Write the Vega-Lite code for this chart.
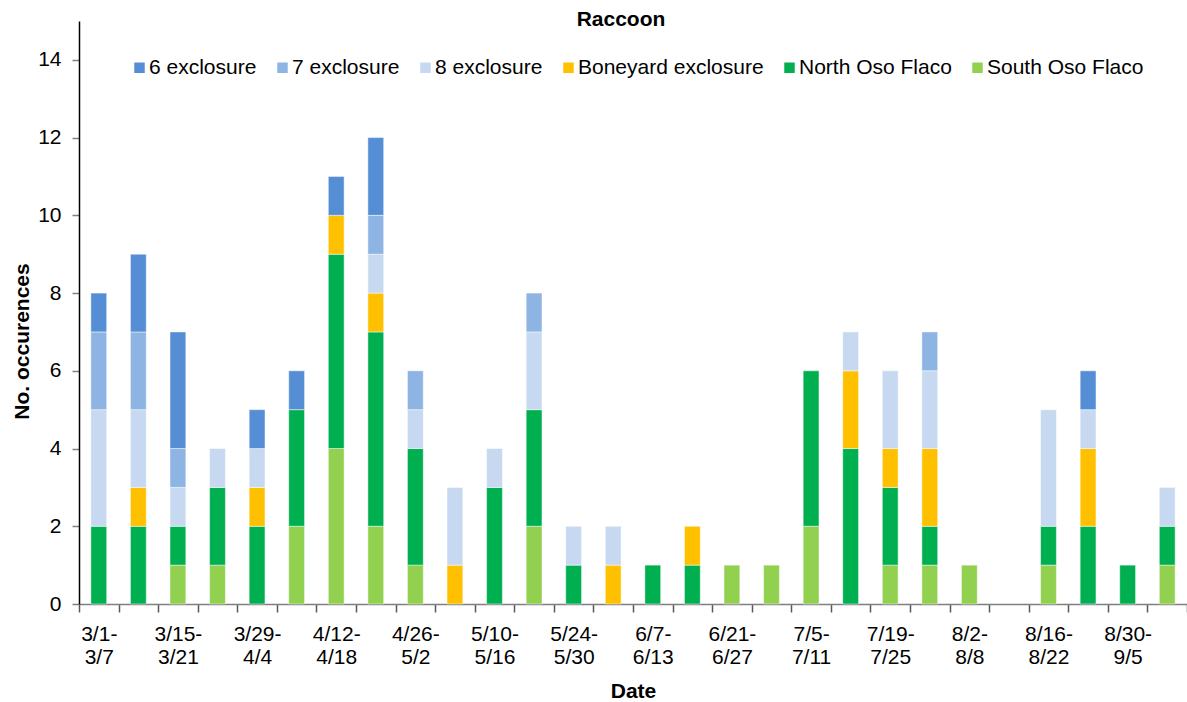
{
  "$schema": "https://vega.github.io/schema/vega-lite/v6.json",
  "width": 1108,
  "height": 583,
  "autosize": {"type": "none"},
  "padding": {"left": 79, "top": 21, "right": 0, "bottom": 98},
  "background": "white",
  "config": {
    "view": {"stroke": null},
    "font": "Liberation Sans",
    "axis": {"labelFont": "Liberation Sans", "titleFont": "Liberation Sans", "labelColor": "black", "titleColor": "black", "grid": false}
  },
  "title": {
    "text": "Raccoon",
    "font": "Liberation Sans",
    "fontSize": 21,
    "fontWeight": "bold",
    "color": "black",
    "anchor": "middle",
    "baseline": "alphabetic",
    "offset": -5,
    "dx": -12,
    "dy": 21
  },
  "data": {
    "values": [
      {"week": "3/1-3/7", "series": "North Oso Flaco", "count": 2},
      {"week": "3/1-3/7", "series": "8 exclosure", "count": 3},
      {"week": "3/1-3/7", "series": "7 exclosure", "count": 2},
      {"week": "3/1-3/7", "series": "6 exclosure", "count": 1},
      {"week": "3/8-3/14", "series": "North Oso Flaco", "count": 2},
      {"week": "3/8-3/14", "series": "Boneyard exclosure", "count": 1},
      {"week": "3/8-3/14", "series": "8 exclosure", "count": 2},
      {"week": "3/8-3/14", "series": "7 exclosure", "count": 2},
      {"week": "3/8-3/14", "series": "6 exclosure", "count": 2},
      {"week": "3/15-3/21", "series": "South Oso Flaco", "count": 1},
      {"week": "3/15-3/21", "series": "North Oso Flaco", "count": 1},
      {"week": "3/15-3/21", "series": "8 exclosure", "count": 1},
      {"week": "3/15-3/21", "series": "7 exclosure", "count": 1},
      {"week": "3/15-3/21", "series": "6 exclosure", "count": 3},
      {"week": "3/22-3/28", "series": "South Oso Flaco", "count": 1},
      {"week": "3/22-3/28", "series": "North Oso Flaco", "count": 2},
      {"week": "3/22-3/28", "series": "8 exclosure", "count": 1},
      {"week": "3/29-4/4", "series": "North Oso Flaco", "count": 2},
      {"week": "3/29-4/4", "series": "Boneyard exclosure", "count": 1},
      {"week": "3/29-4/4", "series": "8 exclosure", "count": 1},
      {"week": "3/29-4/4", "series": "6 exclosure", "count": 1},
      {"week": "4/5-4/11", "series": "South Oso Flaco", "count": 2},
      {"week": "4/5-4/11", "series": "North Oso Flaco", "count": 3},
      {"week": "4/5-4/11", "series": "6 exclosure", "count": 1},
      {"week": "4/12-4/18", "series": "South Oso Flaco", "count": 4},
      {"week": "4/12-4/18", "series": "North Oso Flaco", "count": 5},
      {"week": "4/12-4/18", "series": "Boneyard exclosure", "count": 1},
      {"week": "4/12-4/18", "series": "6 exclosure", "count": 1},
      {"week": "4/19-4/25", "series": "South Oso Flaco", "count": 2},
      {"week": "4/19-4/25", "series": "North Oso Flaco", "count": 5},
      {"week": "4/19-4/25", "series": "Boneyard exclosure", "count": 1},
      {"week": "4/19-4/25", "series": "8 exclosure", "count": 1},
      {"week": "4/19-4/25", "series": "7 exclosure", "count": 1},
      {"week": "4/19-4/25", "series": "6 exclosure", "count": 2},
      {"week": "4/26-5/2", "series": "South Oso Flaco", "count": 1},
      {"week": "4/26-5/2", "series": "North Oso Flaco", "count": 3},
      {"week": "4/26-5/2", "series": "8 exclosure", "count": 1},
      {"week": "4/26-5/2", "series": "7 exclosure", "count": 1},
      {"week": "5/3-5/9", "series": "Boneyard exclosure", "count": 1},
      {"week": "5/3-5/9", "series": "8 exclosure", "count": 2},
      {"week": "5/10-5/16", "series": "North Oso Flaco", "count": 3},
      {"week": "5/10-5/16", "series": "8 exclosure", "count": 1},
      {"week": "5/17-5/23", "series": "South Oso Flaco", "count": 2},
      {"week": "5/17-5/23", "series": "North Oso Flaco", "count": 3},
      {"week": "5/17-5/23", "series": "8 exclosure", "count": 2},
      {"week": "5/17-5/23", "series": "7 exclosure", "count": 1},
      {"week": "5/24-5/30", "series": "North Oso Flaco", "count": 1},
      {"week": "5/24-5/30", "series": "8 exclosure", "count": 1},
      {"week": "5/31-6/6", "series": "Boneyard exclosure", "count": 1},
      {"week": "5/31-6/6", "series": "8 exclosure", "count": 1},
      {"week": "6/7-6/13", "series": "North Oso Flaco", "count": 1},
      {"week": "6/14-6/20", "series": "North Oso Flaco", "count": 1},
      {"week": "6/14-6/20", "series": "Boneyard exclosure", "count": 1},
      {"week": "6/21-6/27", "series": "South Oso Flaco", "count": 1},
      {"week": "6/28-7/4", "series": "South Oso Flaco", "count": 1},
      {"week": "7/5-7/11", "series": "South Oso Flaco", "count": 2},
      {"week": "7/5-7/11", "series": "North Oso Flaco", "count": 4},
      {"week": "7/12-7/18", "series": "North Oso Flaco", "count": 4},
      {"week": "7/12-7/18", "series": "Boneyard exclosure", "count": 2},
      {"week": "7/12-7/18", "series": "8 exclosure", "count": 1},
      {"week": "7/19-7/25", "series": "South Oso Flaco", "count": 1},
      {"week": "7/19-7/25", "series": "North Oso Flaco", "count": 2},
      {"week": "7/19-7/25", "series": "Boneyard exclosure", "count": 1},
      {"week": "7/19-7/25", "series": "8 exclosure", "count": 2},
      {"week": "7/26-8/1", "series": "South Oso Flaco", "count": 1},
      {"week": "7/26-8/1", "series": "North Oso Flaco", "count": 1},
      {"week": "7/26-8/1", "series": "Boneyard exclosure", "count": 2},
      {"week": "7/26-8/1", "series": "8 exclosure", "count": 2},
      {"week": "7/26-8/1", "series": "7 exclosure", "count": 1},
      {"week": "8/2-8/8", "series": "South Oso Flaco", "count": 1},
      {"week": "8/16-8/22", "series": "South Oso Flaco", "count": 1},
      {"week": "8/16-8/22", "series": "North Oso Flaco", "count": 1},
      {"week": "8/16-8/22", "series": "8 exclosure", "count": 3},
      {"week": "8/23-8/29", "series": "North Oso Flaco", "count": 2},
      {"week": "8/23-8/29", "series": "Boneyard exclosure", "count": 2},
      {"week": "8/23-8/29", "series": "8 exclosure", "count": 1},
      {"week": "8/23-8/29", "series": "6 exclosure", "count": 1},
      {"week": "8/30-9/5", "series": "North Oso Flaco", "count": 1},
      {"week": "9/6-9/12", "series": "South Oso Flaco", "count": 1},
      {"week": "9/6-9/12", "series": "North Oso Flaco", "count": 1},
      {"week": "9/6-9/12", "series": "8 exclosure", "count": 1}
    ]
  },
  "mark": {"type": "bar", "width": {"band": 0.4}, "stroke": "white", "strokeWidth": 0.8, "strokeOpacity": 0.6},
  "encoding": {
    "x": {
      "field": "week",
      "type": "ordinal",
      "scale": {
        "domain": ["3/1-3/7", "3/8-3/14", "3/15-3/21", "3/22-3/28", "3/29-4/4", "4/5-4/11", "4/12-4/18", "4/19-4/25", "4/26-5/2", "5/3-5/9", "5/10-5/16", "5/17-5/23", "5/24-5/30", "5/31-6/6", "6/7-6/13", "6/14-6/20", "6/21-6/27", "6/28-7/4", "7/5-7/11", "7/12-7/18", "7/19-7/25", "7/26-8/1", "8/2-8/8", "8/9-8/15", "8/16-8/22", "8/23-8/29", "8/30-9/5", "9/6-9/12"],
        "paddingInner": 0,
        "paddingOuter": 0
      },
      "axis": {
        "title": "Date",
        "titleFontSize": 21,
        "titleFontWeight": "bold",
        "titleBaseline": "alphabetic",
        "titleY": 93,
        "labelAngle": 0,
        "labelFontSize": 21,
        "labelLineHeight": 23,
        "labelPadding": 11,
        "labelOverlap": false,
        "labelExpr": "isString(datum.value) && indexof(['3/8-3/14','3/22-3/28','4/5-4/11','4/19-4/25','5/3-5/9','5/17-5/23','5/31-6/6','6/14-6/20','6/28-7/4','7/12-7/18','7/26-8/1','8/9-8/15','8/23-8/29','9/6-9/12'], datum.value) < 0 ? [substring(datum.value, 0, indexof(datum.value, '-') + 1), substring(datum.value, indexof(datum.value, '-') + 1, 20)] : ''",
        "tickBand": "extent",
        "tickSize": 8,
        "tickColor": "#595959",
        "tickWidth": 1.5,
        "domainColor": "#808080",
        "domainWidth": 1.5
      }
    },
    "y": {
      "field": "count",
      "type": "quantitative",
      "scale": {"domain": [0, 15], "nice": false},
      "axis": {
        "title": "No. occurences",
        "titleFontSize": 21,
        "titleFontWeight": "bold",
        "titleAngle": 270,
        "titleBaseline": "alphabetic",
        "titleX": -51,
        "titleY": 320,
        "values": [0, 2, 4, 6, 8, 10, 12, 14],
        "labelFontSize": 21,
        "labelPadding": 11,
        "tickSize": 7,
        "tickColor": "#808080",
        "tickWidth": 1.5,
        "domainColor": "black",
        "domainWidth": 1.5
      }
    },
    "color": {
      "field": "series",
      "type": "nominal",
      "scale": {
        "domain": ["6 exclosure", "7 exclosure", "8 exclosure", "Boneyard exclosure", "North Oso Flaco", "South Oso Flaco"],
        "range": ["#558ED5", "#8EB4E3", "#C6D9F1", "#FFC000", "#00B050", "#92D050"]
      },
      "legend": {
        "title": null,
        "orient": "none",
        "direction": "horizontal",
        "legendX": 50,
        "legendY": 36,
        "symbolType": "square",
        "symbolSize": 110,
        "symbolStrokeWidth": 0,
        "labelFontSize": 21,
        "labelFont": "Liberation Sans",
        "labelColor": "black",
        "labelOffset": -1,
        "columnPadding": 15,
        "labelLimit": 400
      }
    },
    "order": {"field": "series", "type": "nominal", "sort": "descending"}
  }
}
